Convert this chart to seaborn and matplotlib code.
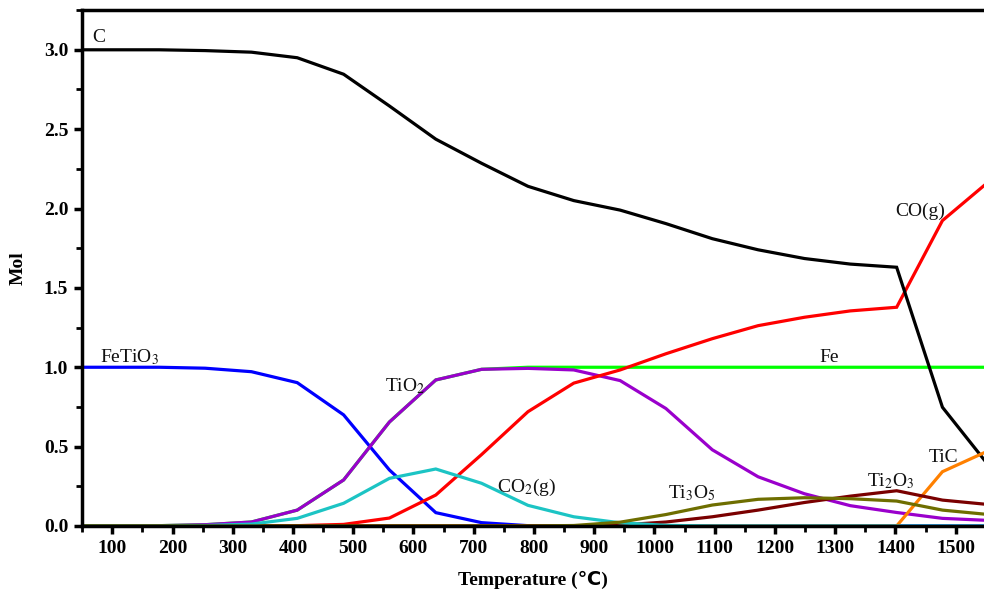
import numpy as np
import pandas as pd
import matplotlib
matplotlib.use("Agg")
import matplotlib.pyplot as plt
from matplotlib.ticker import MultipleLocator
import seaborn as sns

# temperature steps of the equilibrium calculation (degC)
temps = [25, 101, 178, 254, 331, 407, 484, 560, 637, 713, 790,
         866, 943, 1019, 1096, 1172, 1249, 1325, 1402, 1478, 1555]

# mol amounts
c_mol = [3.0, 3.0, 3.0, 2.995, 2.985, 2.95, 2.846, 2.646, 2.437, 2.285, 2.14,
         2.05, 1.99, 1.905, 1.81, 1.74, 1.685, 1.65, 1.63, 0.748, 0.38]
co_mol = [0.0, 0.0, 0.0, 0.0, 0.0, 0.002, 0.01, 0.05, 0.195, 0.45, 0.72,
          0.90, 0.983, 1.085, 1.18, 1.262, 1.315, 1.355, 1.378, 1.924, 2.17]
fe_mol = [0.0, 0.0, 0.002, 0.008, 0.025, 0.10, 0.29, 0.655, 0.92, 0.987, 1.0,
          1.0, 1.0, 1.0, 1.0, 1.0, 1.0, 1.0, 1.0, 1.0, 1.0]
fetio3_mol = [1.0, 1.0, 1.0, 0.994, 0.972, 0.903, 0.70, 0.353, 0.084, 0.021, 0.002,
              0.0, 0.0, 0.0, 0.0, 0.0, 0.0, 0.0, 0.0, 0.0, 0.0]
tio2_mol = [0.0, 0.0, 0.002, 0.008, 0.025, 0.10, 0.29, 0.655, 0.92, 0.987, 0.993,
            0.983, 0.916, 0.74, 0.48, 0.31, 0.203, 0.128, 0.085, 0.048, 0.035]
co2_mol = [0.0, 0.0, 0.0, 0.003, 0.012, 0.048, 0.143, 0.30, 0.359, 0.269, 0.13,
           0.058, 0.02, 0.004, 0.0, 0.0, 0.0, 0.0, 0.0, 0.0, 0.0]
ti3o5_mol = [0.0, 0.0, 0.0, 0.0, 0.0, 0.0, 0.0, 0.0, 0.0, 0.0, 0.0,
             0.003, 0.024, 0.072, 0.132, 0.168, 0.178, 0.172, 0.157, 0.10, 0.072]
ti2o3_mol = [0.0, 0.0, 0.0, 0.0, 0.0, 0.0, 0.0, 0.0, 0.0, 0.0, 0.0,
             0.0, 0.006, 0.025, 0.058, 0.10, 0.148, 0.188, 0.222, 0.163, 0.135]
tic_mol = [0.0, 0.0, 0.0, 0.0, 0.0, 0.0, 0.0, 0.0, 0.0, 0.0, 0.0,
           0.0, 0.0, 0.0, 0.0, 0.0, 0.0, 0.0, 0.0, 0.342, 0.475]

# drawing order: later entries sit on top
series = [
    ("Fe", fe_mol, "#00FF00"),
    ("FeTiO3", fetio3_mol, "#0000FF"),
    ("TiO2", tio2_mol, "#9A00CC"),
    ("CO", co_mol, "#FF0000"),
    ("C", c_mol, "#000000"),
    ("TiC", tic_mol, "#FF8000"),
    ("Ti2O3", ti2o3_mol, "#7A0000"),
    ("CO2", co2_mol, "#1CC4C4"),
    ("Ti3O5", ti3o5_mol, "#6E6E00"),
]

sns.set_theme(style="ticks")
plt.rcParams["font.family"] = ["Liberation Serif", "DejaVu Sans"]
plt.rcParams["mathtext.fontset"] = "stix"

fig = plt.figure(figsize=(9.84, 5.95), dpi=100)
ax = fig.add_axes([0.0835, 0.116, 0.9165, 0.867])

for name, vals, col in series:
    df = pd.DataFrame({"T": temps, "mol": vals})
    sns.lineplot(data=df, x="T", y="mol", color=col, linewidth=2.3, ax=ax,
                 solid_joinstyle="miter")

ax.set_xlim(50, 1547)
ax.set_ylim(0, 3.25)
ax.xaxis.set_major_locator(MultipleLocator(100))
ax.xaxis.set_minor_locator(MultipleLocator(50))
ax.yaxis.set_major_locator(MultipleLocator(0.5))
ax.yaxis.set_minor_locator(MultipleLocator(0.25))
ax.set_xticks(range(100, 1501, 100))
ax.yaxis.set_major_formatter(matplotlib.ticker.FormatStrFormatter("%.1f"))

ax.tick_params(which="major", direction="out", length=6, width=2.5, color="black",
               labelsize=14, pad=4)
ax.tick_params(which="minor", direction="out", length=4, width=2, color="black")
for lab in ax.get_xticklabels() + ax.get_yticklabels():
    lab.set_fontweight("bold")
    lab.set_color("black")

for side in ["left", "top", "bottom"]:
    ax.spines[side].set_linewidth(2.5)
    ax.spines[side].set_color("black")
ax.spines["right"].set_visible(False)

ax.set_xlabel("Temperature (\u2103)", fontsize=14, fontweight="bold", color="black",
              labelpad=10)
ax.set_ylabel("Mol", fontsize=14, fontweight="bold", color="black")
ax.yaxis.set_label_coords(-0.062, 0.5)

# curve labels
labels = [
    ("C", 67, 3.075),
    ("FeTiO$_3$", 80, 1.065),
    ("TiO$_2$", 552, 0.88),
    ("CO$_2$(g)", 738, 0.245),
    ("Ti$_3$O$_5$", 1023, 0.205),
    ("Ti$_2$O$_3$", 1352, 0.28),
    ("TiC", 1455, 0.43),
    ("CO(g)", 1400, 1.98),
    ("Fe", 1274, 1.06),
]
for txt, x, y in labels:
    ax.text(x, y, txt, fontsize=14, color="#111111", ha="left", va="center")

fig.savefig("out.png", dpi=100)
